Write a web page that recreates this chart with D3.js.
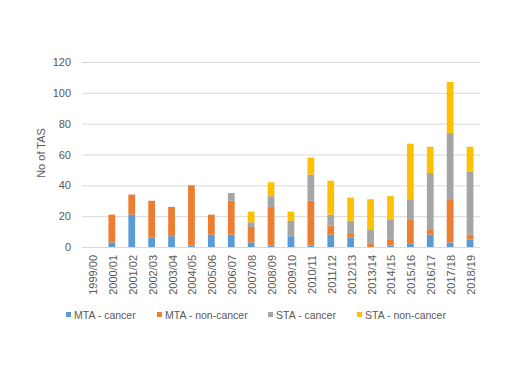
<!DOCTYPE html>
<html lang="en">
<head>
  <meta charset="UTF-8">
  <title>No of TAS</title>
  <script src="https://d3js.org/d3.v7.min.js"></script>
  <style>
    body { margin: 0; background: #fff; }
    svg { font-family: "Liberation Sans", Arial, sans-serif; }
  </style>
</head>
<body>
  <div id="chart"></div>
  <script>
    // data
    const years = ["1999/00","2000/01","2001/02","2002/03","2003/04","2004/05","2005/06","2006/07","2007/08","2008/09",
                   "2009/10","2010/11","2011/12","2012/13","2013/14","2014/15","2015/16","2016/17","2017/18","2018/19"];
    const mtaCancer    = [0, 3, 21, 6, 7, 1, 8, 8, 3, 1, 7, 1, 8, 6, 0, 1, 2, 8, 3, 5];
    const mtaNonCancer = [0, 18, 13, 24, 19, 39, 13, 22, 10, 25, 0, 29, 6, 3, 2, 4, 16, 3, 28, 3];
    const staCancer    = [0, 0, 0, 0, 0, 0, 0, 5, 3, 7, 10, 17, 7, 8, 9, 13, 13, 37, 43, 41];
    const staNonCancer = [0, 0, 0, 0, 0, 0, 0, 0, 7, 9, 6, 11, 22, 15, 20, 15, 36, 17, 33, 16];
    const seriesNames = ["MTA - cancer", "MTA - non-cancer", "STA - cancer", "STA - non-cancer"];
    const yTicks = [0, 20, 40, 60, 80, 100, 120];

    const colors = ["#5B9BD5", "#ED7D31", "#A5A5A5", "#FFC000"];
    const width = 512, height = 384;
    const plotLeft = 82, plotRight = 480, plotTop = 62, plotBottom = 247;

    const rows = years.map((y, i) => ({
      year: y,
      s0: mtaCancer[i], s1: mtaNonCancer[i], s2: staCancer[i], s3: staNonCancer[i]
    }));
    const stack = d3.stack().keys(["s0", "s1", "s2", "s3"])(rows);

    const svg = d3.select("#chart").append("svg")
      .attr("width", width).attr("height", height);

    const x = d3.scaleBand().domain(years).range([plotLeft, plotRight]).paddingInner(0.66).paddingOuter(0.33);
    const y = d3.scaleLinear().domain([0, 120]).range([plotBottom, plotTop]);

    // gridlines
    svg.append("g").selectAll("line").data(yTicks).enter().append("line")
      .attr("x1", plotLeft).attr("x2", plotRight)
      .attr("y1", d => y(d) + 0.5).attr("y2", d => y(d) + 0.5)
      .attr("stroke", "#D9D9D9").attr("stroke-width", 1);

    // y tick labels
    svg.append("g").selectAll("text").data(yTicks).enter().append("text")
      .attr("x", 71).attr("y", d => y(d) + 4)
      .attr("text-anchor", "end").attr("font-size", 11).attr("fill", "#595959")
      .text(d => d);

    // y axis title
    svg.append("text")
      .attr("transform", `translate(45, 153) rotate(-90)`)
      .attr("text-anchor", "middle").attr("font-size", 11).attr("fill", "#595959")
      .text("No of TAS");

    // bars
    svg.append("g").selectAll("g").data(stack).enter().append("g")
      .attr("fill", (d, i) => colors[i])
      .selectAll("rect").data(d => d).enter().append("rect")
      .attr("x", d => x(d.data.year))
      .attr("width", x.bandwidth())
      .attr("y", d => y(d[1]))
      .attr("height", d => y(d[0]) - y(d[1]));

    // x tick labels
    svg.append("g").selectAll("text").data(years).enter().append("text")
      .attr("transform", d => `translate(${x(d) + x.bandwidth() / 2 + 5}, 255) rotate(-90)`)
      .attr("text-anchor", "end").attr("font-size", 11).attr("fill", "#595959")
      .text(d => d);

    // legend
    const legendX = [66, 157, 268, 357];
    const legend = svg.append("g").selectAll("g").data(seriesNames).enter().append("g")
      .attr("transform", (d, i) => `translate(${legendX[i]}, 312)`);
    legend.append("rect").attr("width", 5).attr("height", 5).attr("fill", (d, i) => colors[i]);
    legend.append("text").attr("x", 8).attr("y", 6.5).attr("font-size", 10.5).attr("fill", "#595959")
      .text(d => d);
  </script>
</body>
</html>
